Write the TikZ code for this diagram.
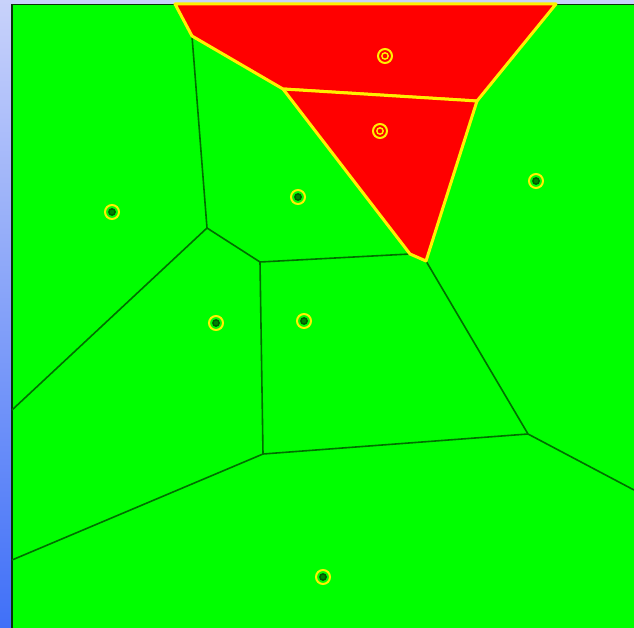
\documentclass[tikz,border=0pt]{standalone}
\usepackage{tikz}
\usetikzlibrary{calc}

\definecolor{cellgreen}{RGB}{0,255,0}
\definecolor{cellred}{RGB}{255,0,0}
\definecolor{edgegreen}{RGB}{0,110,0}
\definecolor{rimyellow}{RGB}{255,240,0}
\definecolor{framedark}{RGB}{10,50,10}
\definecolor{paneltop}{RGB}{200,210,250}
\definecolor{panelbottom}{RGB}{64,112,248}

\tikzset{
  voredge/.style={draw=edgegreen, line width=1.6pt},
  redcell/.style={fill=cellred, draw=rimyellow, line width=3pt, line join=round},
  siteouter/.style={draw=rimyellow, line width=2pt},
  siteinner/.style={draw=edgegreen!80!black, fill=cellgreen!50!black, line width=1.4pt},
  siteinnerred/.style={draw=rimyellow, line width=1.4pt}
}

\begin{document}
\begin{tikzpicture}[x=1pt,y=-1pt]
\useasboundingbox (0,0) rectangle (634,628);

% side panel and top strip
\fill[paneltop] (0,0) rectangle (634,4);
\shade[top color=paneltop, bottom color=panelbottom] (0,0) rectangle (12,628);

% background field
\fill[cellgreen] (12,4) rectangle (634,628);
\draw[framedark, line width=1.6pt] (12,628) -- (12,4.5) -- (634,4.5);

% vertices of the diagram
\coordinate (ta) at (175,4);
\coordinate (tb) at (192,36);
\coordinate (tc) at (283,89);
\coordinate (td) at (477,101);
\coordinate (te) at (556,4);
\coordinate (ra) at (410,254);
\coordinate (rb) at (426,261);
\coordinate (va) at (207,228);
\coordinate (vb) at (260,262);
\coordinate (vc) at (263,454);
\coordinate (vd) at (528,434);
\coordinate (le) at (12,410);
\coordinate (lf) at (12,560);
\coordinate (rg) at (634,490);

% edges
\draw[voredge] (tb) -- (va);
\draw[voredge] (va) -- (vb);
\draw[voredge] (va) -- (le);
\draw[voredge] (vb) -- (ra);
\draw[voredge] (vb) -- (vc);
\draw[voredge] (rb) -- (vd);
\draw[voredge] (vd) -- (vc);
\draw[voredge] (vd) -- (rg);
\draw[voredge] (vc) -- (lf);

% red cells
\draw[redcell] (ta) -- (tb) -- (tc) -- (td) -- (te) -- cycle;
\draw[redcell] (tc) -- (td) -- (rb) -- (ra) -- cycle;

% sites in red cells
\foreach \px/\py [count=\i] in {385/56, 380/131} {
  \draw[siteouter] (\px,\py) circle (7);
  \draw[siteinnerred] (\px,\py) circle (3.2);
}

% sites in green cells
\foreach \px/\py [count=\i] in {298/197, 536/181, 112/212, 216/323, 304/321, 323/577} {
  \draw[siteouter] (\px,\py) circle (7);
  \filldraw[siteinner] (\px,\py) circle (3.2);
}
\end{tikzpicture}
\end{document}
